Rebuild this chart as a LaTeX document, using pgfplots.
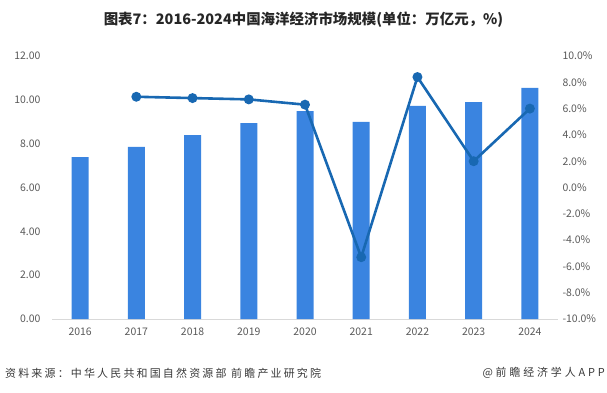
\documentclass[border=0pt]{standalone}
\usepackage{fontspec}
\setmainfont{Noto Sans CJK SC}
\usepackage{pgfplots}
\pgfplotsset{compat=1.18}
\definecolor{barblue}{HTML}{3A84E0}
\definecolor{lineblue}{HTML}{1868B2}
\definecolor{ticktext}{HTML}{595959}
\definecolor{titletext}{HTML}{262626}
\begin{document}
\begin{tikzpicture}[x=1bp,y=1bp]
\useasboundingbox (0,0) rectangle (607,392);
\begin{axis}[at={(52bp,73bp)}, anchor=south west, scale only axis, width=506bp, height=263bp,
 xmin=-0.5, xmax=8.5, ymin=0, ymax=12, ytick={0,2,4,6,8,10,12}, xtick={0,1,2,3,4,5,6,7,8},
 xticklabels={2016,2017,2018,2019,2020,2021,2022,2023,2024},
 axis y line*=left, axis x line*=bottom,
 y axis line style={draw=none}, x axis line style={draw=black!15, -, line width=0.8bp},
 major tick length=0,
 tick label style={font=\fontsize{10.5}{12}\selectfont, text=ticktext},
 yticklabel style={xshift=-8bp, /pgf/number format/.cd, fixed, fixed zerofill, precision=2},
 xticklabel style={yshift=-5bp},
 /pgf/number format/assume math mode=true]
 \addplot[ybar, bar width=17bp, fill=barblue, draw=none] coordinates {
 (0,7.39) (1,7.85) (2,8.39) (3,8.94) (4,9.49) (5,8.99) (6,9.72) (7,9.90) (8,10.54)};
\end{axis}
\begin{axis}[at={(52bp,73bp)}, anchor=south west, scale only axis, width=506bp, height=263bp,
 xmin=-0.5, xmax=8.5, ymin=-10, ymax=10, ytick={-10,-8,-6,-4,-2,0,2,4,6,8,10},
 axis y line*=right, axis x line=none, y axis line style={draw=none},
 major tick length=0,
 tick label style={font=\fontsize{10.5}{12}\selectfont, text=ticktext},
 yticklabel style={anchor=west, xshift=1bp},
 yticklabel={\pgfmathprintnumber[fixed,fixed zerofill,precision=1,assume math mode=true]{\tick}\%}]
 \addplot[lineblue, line width=2.6bp, mark=*, mark size=3.6bp] coordinates {
 (1,6.9) (2,6.8) (3,6.7) (4,6.3) (5,-5.3) (6,8.4) (7,2.0) (8,6.0)};
\end{axis}
\node[font=\fontsize{14.5}{16}\selectfont\bfseries, text=titletext] at (303.5,372) {图表7：2016-2024中国海洋经济市场规模(单位：万亿元，\%)};
\node[anchor=west, font=\fontsize{11}{12}\selectfont\addfontfeature{LetterSpace=20}, text=black!78, inner sep=0] at (5,19) {资料来源：中华人民共和国自然资源部 前瞻产业研究院};
\node[anchor=east, font=\fontsize{11}{12}\selectfont\addfontfeature{LetterSpace=26}, text=black!78, inner sep=0] at (605,19) {@前瞻经济学人APP};
\end{tikzpicture}
\end{document}
